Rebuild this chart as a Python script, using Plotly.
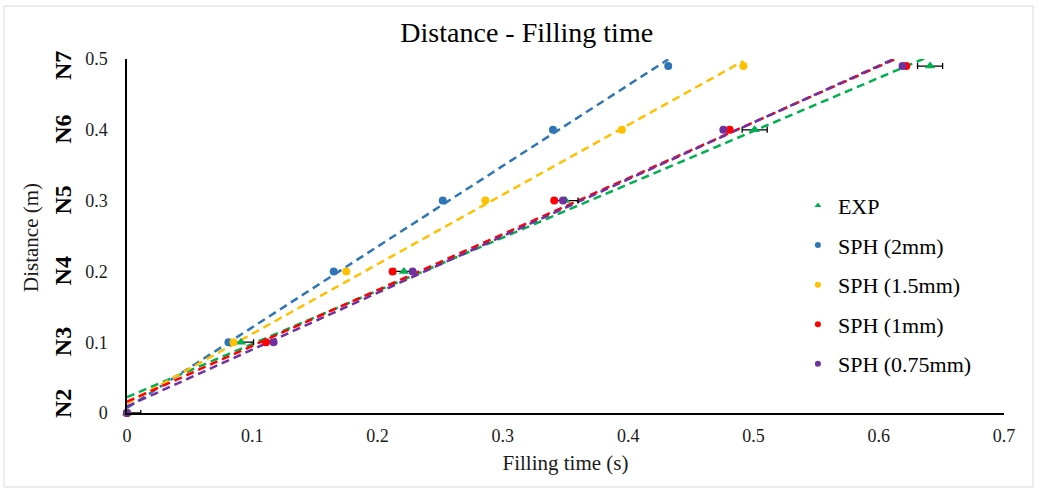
import numpy as np
import plotly.graph_objects as go

# ---- data ----
nodes = ["N2", "N3", "N4", "N5", "N6", "N7"]
distance = [0.0, 0.1, 0.2, 0.3, 0.4, 0.49]

t_exp = [0.0, 0.091, 0.221, 0.350, 0.501, 0.641]
t_exp_err = [0.011, 0.01, 0.007, 0.01, 0.01, 0.01]
t_sph_2 = [0.0, 0.081, 0.165, 0.252, 0.340, 0.432]
t_sph_15 = [0.0, 0.085, 0.175, 0.286, 0.395, 0.492]
t_sph_1 = [0.0, 0.111, 0.212, 0.341, 0.481, 0.622]
t_sph_075 = [0.0, 0.117, 0.228, 0.348, 0.476, 0.619]

series_names = ["EXP", "SPH (2mm)", "SPH (1.5mm)", "SPH (1mm)", "SPH (0.75mm)"]
series_t = [t_exp, t_sph_2, t_sph_15, t_sph_1, t_sph_075]
colors = ["#00B050", "#2E75B6", "#FFC000", "#FF0000", "#7030A0"]
symbols = ["triangle-up", "circle", "circle", "circle", "circle"]

x_ticks = [0, 0.1, 0.2, 0.3, 0.4, 0.5, 0.6, 0.7]
y_ticks = [0, 0.1, 0.2, 0.3, 0.4, 0.5]

W, H = 1041, 495
ML, MR, MT, MB = 127, 37, 59, 82
FONT = "Liberation Serif"
pw = W - ML - MR
ph = H - MT - MB

fig = go.Figure()

# linear trendlines (least squares, like Excel)
for name, t, c in zip(series_names, series_t, colors):
    coef = np.polyfit(t, distance, 1)
    xs = np.array([0.0, max(t)])
    ys = np.polyval(coef, xs)
    fig.add_trace(go.Scatter(x=xs, y=ys, mode="lines", showlegend=False,
                             line=dict(color=c, width=2.5, dash="8px,5px"),
                             hoverinfo="skip"))

# data points
for i, (name, t, c, sym) in enumerate(zip(series_names, series_t, colors, symbols)):
    kw = {}
    if i == 0:
        kw["error_x"] = dict(type="data", array=t_exp_err, visible=True,
                             color="black", thickness=1.3, width=3)
    fig.add_trace(go.Scatter(x=t, y=distance, mode="markers", showlegend=False,
                             marker=dict(color=c, size=8 if sym == "circle" else 9,
                                         symbol=sym),
                             cliponaxis=False, **kw))

# legend entries
for i, (name, c, sym) in enumerate(zip(series_names, colors, symbols)):
    fig.add_trace(go.Scatter(x=[None], y=[None], mode="markers", name=name,
                             legendgroup=name,
                             marker=dict(color=c, size=6, symbol=sym)))

# node labels
for lab, d in zip(nodes, distance):
    fig.add_annotation(x=(63 - ML) / pw, xref="paper", xanchor="center",
                       y=d, yref="y", yanchor="middle", text="<b>%s</b>" % lab,
                       textangle=-90, showarrow=False, yshift=9 if d == 0 else 0,
                       font=dict(family=FONT, size=24, color="black"))

# y axis title
fig.add_annotation(x=(31 - ML) / pw, xref="paper", xanchor="center",
                   y=(H - MB - 238) / ph, yref="paper", yanchor="middle",
                   text="Distance (m)", textangle=-90, showarrow=False,
                   font=dict(family=FONT, size=21, color="#1a1a1a"))

# chart border
fig.add_shape(type="rect", xref="paper", yref="paper",
              x0=(4 - ML) / pw, x1=(1033 - ML) / pw,
              y0=(H - MB - 487) / ph, y1=(H - MB - 6) / ph,
              line=dict(color="#D9D9D9", width=1))

fig.update_layout(
    width=W, height=H,
    margin=dict(l=ML, r=MR, t=MT, b=MB),
    paper_bgcolor="white", plot_bgcolor="white",
    font=dict(family=FONT, size=18, color="#1a1a1a"),
    title=dict(text="Distance - Filling time", x=0.506, xref="container",
               y=0.935, yref="container", xanchor="center", yanchor="middle",
               font=dict(family=FONT, size=28, color="black")),
    xaxis=dict(range=[0, 0.7], tickvals=x_ticks, ticktext=[("%g" % v) for v in x_ticks],
               showgrid=False, zeroline=False, showline=True, linecolor="black",
               linewidth=1.5, ticks="", tickfont=dict(size=18), ticklabelstandoff=6,
               title=dict(text="Filling time (s)", font=dict(size=21), standoff=10)),
    yaxis=dict(range=[0, 0.5], tickvals=y_ticks, ticktext=[("%g" % v) for v in y_ticks],
               showgrid=False, zeroline=False, showline=True, linecolor="black",
               linewidth=1.5, ticks="", tickfont=dict(size=18), ticklabelstandoff=14),
    legend=dict(x=0.765, y=0.645, xanchor="left", yanchor="top",
                font=dict(family=FONT, size=22, color="black"),
                tracegroupgap=8, bgcolor="rgba(0,0,0,0)"),
    showlegend=True,
)

fig.write_html("out.html")
